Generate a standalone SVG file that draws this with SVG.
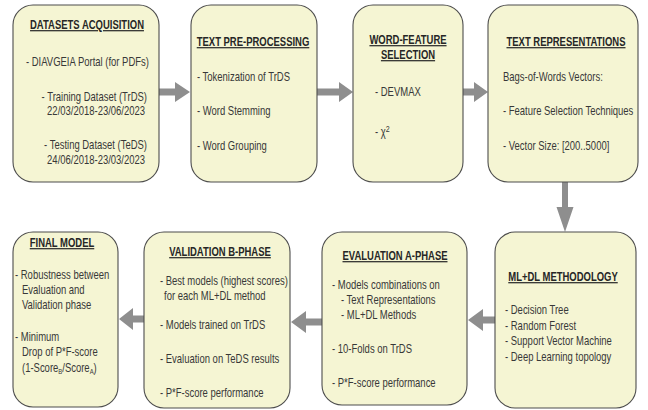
<svg xmlns="http://www.w3.org/2000/svg" width="648" height="410" viewBox="0 0 648 410">
  <style>
    .box { fill: #f5f5d3; stroke: #4d4d4d; stroke-width: 1.1; }
    text { font-family: "Liberation Sans", Arial, sans-serif; font-size: 12px; fill: #383838; }
    .title { font-weight: bold; text-decoration: underline; text-anchor: middle; fill: #262626; }
    .end { text-anchor: end; }
    .arrow { fill: #8e8e8e; }
  </style>

  <rect width="648" height="410" fill="#ffffff"/>

  <!-- connectors -->
  <g id="connectors">
    <!-- acquisition -> pre-processing -->
    <polygon class="arrow" points="159,88.5 175,88.5 175,82 190,92 175,102 175,95.5 159,95.5"/>
    <!-- pre-processing -> feature selection -->
    <polygon class="arrow" points="317,88.5 339,88.5 339,82 353,92 339,102 339,95.5 317,95.5"/>
    <!-- feature selection -> representations -->
    <polygon class="arrow" points="463,88.5 474,88.5 474,82 488,92 474,102 474,95.5 463,95.5"/>
    <!-- representations -> methodology -->
    <polygon class="arrow" points="562,182 568,182 568,207 573.5,207 565,232 556.5,207 562,207"/>
    <!-- methodology -> evaluation -->
    <polygon class="arrow" points="495,316.5 483,316.5 483,309 468,320 483,331 483,323.5 495,323.5"/>
    <!-- evaluation -> validation -->
    <polygon class="arrow" points="322,318.5 306,318.5 306,311 291,322 306,333 306,325.5 322,325.5"/>
    <!-- validation -> final model -->
    <polygon class="arrow" points="144,315.5 133,315.5 133,308 119,319 133,330 133,322.5 144,322.5"/>
  </g>

  <!-- texts are narrowed horizontally with scale(0.79,1) -->
  <g id="datasets-acquisition">
    <rect class="box" x="13" y="5" width="146" height="177" rx="20"/>
    <text class="title" transform="translate(87,29) scale(0.79,1)">DATASETS ACQUISITION</text>
    <text transform="translate(26,66) scale(0.79,1)">- DIAVGEIA Portal (for PDFs)</text>
    <text class="end" transform="translate(147,101) scale(0.79,1)">- Training Dataset (TrDS)</text>
    <text class="end" transform="translate(145,115) scale(0.79,1)">22/03/2018-23/06/2023</text>
    <text class="end" transform="translate(147,149) scale(0.79,1)">- Testing Dataset (TeDS)</text>
    <text class="end" transform="translate(145,164) scale(0.79,1)">24/06/2018-23/03/2023</text>
  </g>

  <g id="text-pre-processing">
    <rect class="box" x="191" y="5" width="126" height="177" rx="20"/>
    <text class="title" transform="translate(253,46) scale(0.79,1)">TEXT PRE-PROCESSING</text>
    <text transform="translate(197,81) scale(0.79,1)">- Tokenization of TrDS</text>
    <text transform="translate(197,115) scale(0.79,1)">- Word Stemming</text>
    <text transform="translate(197,150) scale(0.79,1)">- Word Grouping</text>
  </g>

  <g id="word-feature-selection">
    <rect class="box" x="353" y="5" width="110" height="177" rx="20"/>
    <text class="title" transform="translate(408,44) scale(0.79,1)">WORD-FEATURE</text>
    <text class="title" transform="translate(408,59) scale(0.79,1)">SELECTION</text>
    <text transform="translate(375,96) scale(0.79,1)">- DEVMAX</text>
    <text transform="translate(375,136) scale(0.79,1)">- χ<tspan font-size="9px" dy="-4">2</tspan></text>
  </g>

  <g id="text-representations">
    <rect class="box" x="488" y="5" width="150" height="177" rx="20"/>
    <text class="title" transform="translate(566,46) scale(0.79,1)">TEXT REPRESENTATIONS</text>
    <text transform="translate(503,81) scale(0.79,1)">Bags-of-Words Vectors:</text>
    <text transform="translate(503,115) scale(0.79,1)">- Feature Selection Techniques</text>
    <text transform="translate(503,150) scale(0.79,1)">- Vector Size: [200..5000]</text>
  </g>

  <g id="ml-dl-methodology">
    <rect class="box" x="495" y="232" width="141" height="176" rx="20"/>
    <text class="title" transform="translate(563,281) scale(0.79,1)">ML+DL METHODOLOGY</text>
    <text transform="translate(505,314) scale(0.79,1)">- Decision Tree</text>
    <text transform="translate(505,330) scale(0.79,1)">- Random Forest</text>
    <text transform="translate(505,345) scale(0.79,1)">- Support Vector Machine</text>
    <text transform="translate(505,361) scale(0.79,1)">- Deep Learning topology</text>
  </g>

  <g id="evaluation-a-phase">
    <rect class="box" x="322" y="232" width="145" height="173" rx="20"/>
    <text class="title" transform="translate(395,260) scale(0.79,1)">EVALUATION A-PHASE</text>
    <text transform="translate(332,289) scale(0.79,1)">- Models combinations on</text>
    <text transform="translate(341,304) scale(0.79,1)">- Text Representations</text>
    <text transform="translate(341,319) scale(0.79,1)">- ML+DL Methods</text>
    <text transform="translate(332,353) scale(0.79,1)">- 10-Folds on TrDS</text>
    <text transform="translate(332,387) scale(0.79,1)">- P*F-score performance</text>
  </g>

  <g id="validation-b-phase">
    <rect class="box" x="144" y="232" width="146" height="176" rx="20"/>
    <text class="title" transform="translate(220,256) scale(0.79,1)">VALIDATION B-PHASE</text>
    <text transform="translate(160,285) scale(0.79,1)">- Best models (highest scores)</text>
    <text transform="translate(164,300) scale(0.79,1)">for each ML+DL method</text>
    <text transform="translate(160,329) scale(0.79,1)">- Models trained on TrDS</text>
    <text transform="translate(160,363) scale(0.79,1)">- Evaluation on TeDS results</text>
    <text transform="translate(160,397) scale(0.79,1)">- P*F-score performance</text>
  </g>

  <g id="final-model">
    <rect class="box" x="13" y="232" width="105" height="175" rx="20"/>
    <text class="title" transform="translate(62,247) scale(0.79,1)">FINAL MODEL</text>
    <text transform="translate(15,279) scale(0.79,1)">- Robustness between</text>
    <text transform="translate(22,294) scale(0.79,1)">Evaluation and</text>
    <text transform="translate(22,309) scale(0.79,1)">Validation phase</text>
    <text transform="translate(15,341) scale(0.79,1)">- Minimum</text>
    <text transform="translate(22,356) scale(0.79,1)">Drop of P*F-score</text>
    <text transform="translate(22,372) scale(0.79,1)">(1-Score<tspan font-size="7.5px" dy="1.5">B</tspan><tspan dy="-1.5">/Score</tspan><tspan font-size="7.5px" dy="1.5">A</tspan><tspan dy="-1.5">)</tspan></text>
  </g>
</svg>
